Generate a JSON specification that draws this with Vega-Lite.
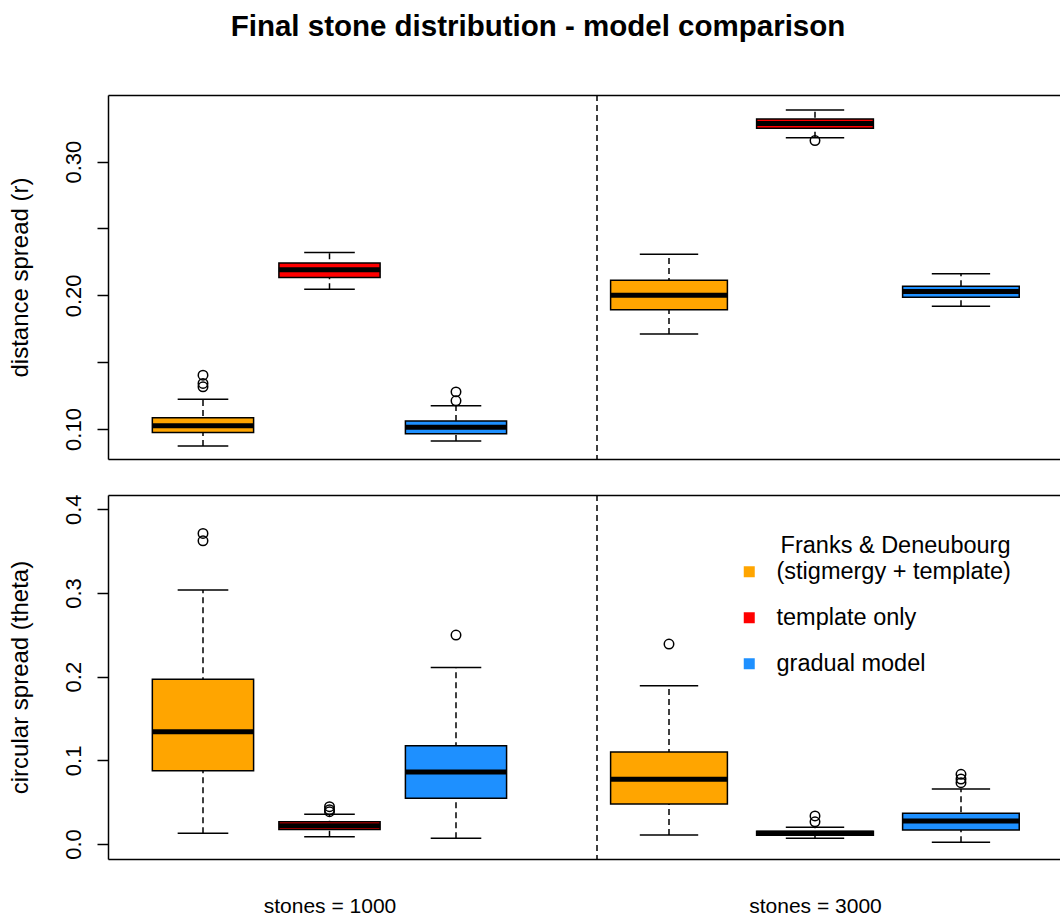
{
  "$schema": "https://vega.github.io/schema/vega-lite/v6.json",
  "padding": {"left": 8, "top": 11, "right": 0, "bottom": 0},
  "background": "white",
  "title": {
    "text": "Final stone distribution - model comparison",
    "font": "Liberation Sans",
    "fontSize": 29.5,
    "fontWeight": "bold",
    "color": "black",
    "anchor": "middle",
    "frame": "bounds",
    "dx": 4,
    "offset": 52
  },
  "datasets": {
    "boxes": [
      {"measure": "r", "stones": 1000, "model": "Franks & Deneubourg (stigmergy + template)", "slot": 1, "lo": 0.0873, "q1": 0.0975, "median": 0.1025, "q3": 0.1084, "hi": 0.1222},
      {"measure": "r", "stones": 1000, "model": "template only", "slot": 2, "lo": 0.2045, "q1": 0.2134, "median": 0.2192, "q3": 0.2241, "hi": 0.2321},
      {"measure": "r", "stones": 1000, "model": "gradual model", "slot": 3, "lo": 0.0910, "q1": 0.0965, "median": 0.1013, "q3": 0.1060, "hi": 0.1174},
      {"measure": "r", "stones": 3000, "model": "Franks & Deneubourg (stigmergy + template)", "slot": 4, "lo": 0.1711, "q1": 0.1893, "median": 0.2000, "q3": 0.2112, "hi": 0.2308},
      {"measure": "r", "stones": 3000, "model": "template only", "slot": 5, "lo": 0.3179, "q1": 0.3249, "median": 0.3284, "q3": 0.3319, "hi": 0.3386},
      {"measure": "r", "stones": 3000, "model": "gradual model", "slot": 6, "lo": 0.1918, "q1": 0.1985, "median": 0.2028, "q3": 0.2067, "hi": 0.2162},
      {"measure": "theta", "stones": 1000, "model": "Franks & Deneubourg (stigmergy + template)", "slot": 1, "lo": 0.0128, "q1": 0.0876, "median": 0.1342, "q3": 0.1968, "hi": 0.3035},
      {"measure": "theta", "stones": 1000, "model": "template only", "slot": 2, "lo": 0.0088, "q1": 0.0175, "median": 0.0219, "q3": 0.0267, "hi": 0.0355},
      {"measure": "theta", "stones": 1000, "model": "gradual model", "slot": 3, "lo": 0.0068, "q1": 0.0546, "median": 0.0860, "q3": 0.1175, "hi": 0.2111},
      {"measure": "theta", "stones": 3000, "model": "Franks & Deneubourg (stigmergy + template)", "slot": 4, "lo": 0.0108, "q1": 0.0478, "median": 0.0773, "q3": 0.1099, "hi": 0.1891},
      {"measure": "theta", "stones": 3000, "model": "template only", "slot": 5, "lo": 0.0068, "q1": 0.0104, "median": 0.0128, "q3": 0.0152, "hi": 0.0199},
      {"measure": "theta", "stones": 3000, "model": "gradual model", "slot": 6, "lo": 0.0020, "q1": 0.0167, "median": 0.0275, "q3": 0.0367, "hi": 0.0657}
    ],
    "outliers": [
      {"measure": "r", "slot": 1, "value": 0.1403},
      {"measure": "r", "slot": 1, "value": 0.1341},
      {"measure": "r", "slot": 1, "value": 0.1316},
      {"measure": "r", "slot": 3, "value": 0.1278},
      {"measure": "r", "slot": 3, "value": 0.1211},
      {"measure": "r", "slot": 5, "value": 0.3157},
      {"measure": "theta", "slot": 1, "value": 0.3712},
      {"measure": "theta", "slot": 1, "value": 0.3624},
      {"measure": "theta", "slot": 2, "value": 0.0446},
      {"measure": "theta", "slot": 2, "value": 0.0410},
      {"measure": "theta", "slot": 2, "value": 0.0386},
      {"measure": "theta", "slot": 3, "value": 0.2497},
      {"measure": "theta", "slot": 4, "value": 0.2389},
      {"measure": "theta", "slot": 5, "value": 0.0335},
      {"measure": "theta", "slot": 5, "value": 0.0266},
      {"measure": "theta", "slot": 6, "value": 0.0833},
      {"measure": "theta", "slot": 6, "value": 0.0777},
      {"measure": "theta", "slot": 6, "value": 0.0733}
    ]
  },
  "spacing": 34,
  "resolve": {"scale": {"color": "independent"}, "legend": {"color": "independent"}},
  "vconcat": [
    {
      "width": 952,
      "height": 364,
      "data": {"name": "boxes"},
      "transform": [
        {"filter": "datum.measure == 'r'"},
        {"calculate": "datum.slot - 0.4", "as": "left"},
        {"calculate": "datum.slot + 0.4", "as": "right"},
        {"calculate": "datum.slot - 0.2", "as": "capL"},
        {"calculate": "datum.slot + 0.2", "as": "capR"}
      ],
      "layer": [
        {
          "mark": {"type": "rule", "strokeDash": [6, 4], "strokeWidth": 1.5, "color": "black"},
          "encoding": {
            "x": {"field": "slot", "type": "quantitative",
                  "scale": {"domain": [0.25, 1, 3, 3.45, 3.5, 3.55, 4, 6, 6.68], "range": [0, 95, 348, 404.9, 489, 495.3, 561, 853, 952]},
                  "axis": {"orient": "bottom", "labels": false, "ticks": false, "title": null, "domain": true}},
            "y": {"field": "lo", "type": "quantitative",
                  "scale": {"domain": [0.0776, 0.3498], "nice": false, "zero": false},
                  "axis": {"title": "distance spread (r)", "values": [0.1, 0.15, 0.2, 0.25, 0.3],
                           "labelExpr": "round(datum.value * 100) % 10 == 0 ? format(datum.value, '.2f') : ''",
                           "labelOverlap": false, "tickSize": 11, "labelAngle": -90, "labelAlign": "center",
                           "labelBaseline": "bottom", "labelPadding": 12, "labelFontSize": 22,
                           "titleFontSize": 24, "titlePadding": 30}},
            "y2": {"field": "hi"}
          }
        },
        {
          "mark": {"type": "rule", "strokeWidth": 1.5, "color": "black"},
          "encoding": {
            "x": {"field": "capL", "type": "quantitative", "scale": {"domain": [0.25, 1, 3, 3.45, 3.5, 3.55, 4, 6, 6.68], "range": [0, 95, 348, 404.9, 489, 495.3, 561, 853, 952]}, "axis": null},
            "x2": {"field": "capR"},
            "y": {"field": "hi", "type": "quantitative", "scale": {"domain": [0.0776, 0.3498], "nice": false, "zero": false}}
          }
        },
        {
          "mark": {"type": "rule", "strokeWidth": 1.5, "color": "black"},
          "encoding": {
            "x": {"field": "capL", "type": "quantitative", "scale": {"domain": [0.25, 1, 3, 3.45, 3.5, 3.55, 4, 6, 6.68], "range": [0, 95, 348, 404.9, 489, 495.3, 561, 853, 952]}, "axis": null},
            "x2": {"field": "capR"},
            "y": {"field": "lo", "type": "quantitative", "scale": {"domain": [0.0776, 0.3498], "nice": false, "zero": false}}
          }
        },
        {
          "mark": {"type": "rect", "stroke": "black", "strokeWidth": 1.5, "opacity": 1},
          "encoding": {
            "x": {"field": "left", "type": "quantitative", "scale": {"domain": [0.25, 1, 3, 3.45, 3.5, 3.55, 4, 6, 6.68], "range": [0, 95, 348, 404.9, 489, 495.3, 561, 853, 952]}, "axis": null},
            "x2": {"field": "right"},
            "y": {"field": "q1", "type": "quantitative", "scale": {"domain": [0.0776, 0.3498], "nice": false, "zero": false}},
            "y2": {"field": "q3"},
            "color": {"field": "model", "type": "nominal",
                      "scale": {"domain": ["Franks & Deneubourg (stigmergy + template)", "template only", "gradual model"], "range": ["#FFA500", "#FF0000", "#1E90FF"]},
                      "legend": null}
          }
        },
        {
          "mark": {"type": "rule", "strokeWidth": 5, "color": "black"},
          "encoding": {
            "x": {"field": "left", "type": "quantitative", "scale": {"domain": [0.25, 1, 3, 3.45, 3.5, 3.55, 4, 6, 6.68], "range": [0, 95, 348, 404.9, 489, 495.3, 561, 853, 952]}, "axis": null},
            "x2": {"field": "right"},
            "y": {"field": "median", "type": "quantitative", "scale": {"domain": [0.0776, 0.3498], "nice": false, "zero": false}}
          }
        },
        {
          "data": {"name": "outliers"},
          "transform": [{"filter": "datum.measure == 'r'"}],
          "mark": {"type": "point", "shape": "circle", "filled": false, "stroke": "black", "strokeWidth": 1.5, "size": 90, "opacity": 1},
          "encoding": {
            "x": {"field": "slot", "type": "quantitative", "scale": {"domain": [0.25, 1, 3, 3.45, 3.5, 3.55, 4, 6, 6.68], "range": [0, 95, 348, 404.9, 489, 495.3, 561, 853, 952]}, "axis": null},
            "y": {"field": "value", "type": "quantitative", "scale": {"domain": [0.0776, 0.3498], "nice": false, "zero": false}}
          }
        },
        {
          "data": {"values": [{}]},
          "mark": {"type": "rule", "strokeDash": [6, 4], "strokeWidth": 1.5, "color": "black"},
          "encoding": {
            "x": {"datum": 3.5, "type": "quantitative",
                  "scale": {"domain": [0.25, 1, 3, 3.45, 3.5, 3.55, 4, 6, 6.68], "range": [0, 95, 348, 404.9, 489, 495.3, 561, 853, 952]},
                  "axis": {"orient": "top", "labels": false, "ticks": false, "title": null, "domain": true}}
          }
        }
      ],
      "resolve": {"axis": {"x": "independent"}}
    },
    {
      "width": 952,
      "height": 364,
      "data": {"name": "boxes"},
      "transform": [
        {"filter": "datum.measure == 'theta'"},
        {"calculate": "datum.slot - 0.4", "as": "left"},
        {"calculate": "datum.slot + 0.4", "as": "right"},
        {"calculate": "datum.slot - 0.2", "as": "capL"},
        {"calculate": "datum.slot + 0.2", "as": "capR"}
      ],
      "layer": [
        {
          "mark": {"type": "rule", "strokeDash": [6, 4], "strokeWidth": 1.5, "color": "black"},
          "encoding": {
            "x": {"field": "slot", "type": "quantitative",
                  "scale": {"domain": [0.25, 1, 3, 3.45, 3.5, 3.55, 4, 6, 6.68], "range": [0, 95, 348, 404.9, 489, 495.3, 561, 853, 952]},
                  "axis": {"orient": "bottom", "values": [2, 5], "ticks": false, "title": null, "domain": true,
                           "labelExpr": "datum.value == 2 ? 'stones = 1000' : 'stones = 3000'",
                           "labelFontSize": 21, "labelPadding": 36, "labelBaseline": "top", "labelAngle": 0, "labelOverlap": false}},
            "y": {"field": "lo", "type": "quantitative",
                  "scale": {"domain": [-0.0179, 0.4171], "nice": false, "zero": false},
                  "axis": {"title": "circular spread (theta)", "values": [0, 0.1, 0.2, 0.3, 0.4], "format": ".1f",
                           "labelOverlap": false, "tickSize": 11, "labelAngle": -90, "labelAlign": "center",
                           "labelBaseline": "bottom", "labelPadding": 12, "labelFontSize": 22,
                           "titleFontSize": 24, "titlePadding": 30}},
            "y2": {"field": "hi"}
          }
        },
        {
          "mark": {"type": "rule", "strokeWidth": 1.5, "color": "black"},
          "encoding": {
            "x": {"field": "capL", "type": "quantitative", "scale": {"domain": [0.25, 1, 3, 3.45, 3.5, 3.55, 4, 6, 6.68], "range": [0, 95, 348, 404.9, 489, 495.3, 561, 853, 952]}, "axis": null},
            "x2": {"field": "capR"},
            "y": {"field": "hi", "type": "quantitative", "scale": {"domain": [-0.0179, 0.4171], "nice": false, "zero": false}}
          }
        },
        {
          "mark": {"type": "rule", "strokeWidth": 1.5, "color": "black"},
          "encoding": {
            "x": {"field": "capL", "type": "quantitative", "scale": {"domain": [0.25, 1, 3, 3.45, 3.5, 3.55, 4, 6, 6.68], "range": [0, 95, 348, 404.9, 489, 495.3, 561, 853, 952]}, "axis": null},
            "x2": {"field": "capR"},
            "y": {"field": "lo", "type": "quantitative", "scale": {"domain": [-0.0179, 0.4171], "nice": false, "zero": false}}
          }
        },
        {
          "mark": {"type": "rect", "stroke": "black", "strokeWidth": 1.5, "opacity": 1},
          "encoding": {
            "x": {"field": "left", "type": "quantitative", "scale": {"domain": [0.25, 1, 3, 3.45, 3.5, 3.55, 4, 6, 6.68], "range": [0, 95, 348, 404.9, 489, 495.3, 561, 853, 952]}, "axis": null},
            "x2": {"field": "right"},
            "y": {"field": "q1", "type": "quantitative", "scale": {"domain": [-0.0179, 0.4171], "nice": false, "zero": false}},
            "y2": {"field": "q3"},
            "color": {"field": "model", "type": "nominal",
                      "scale": {"domain": ["Franks & Deneubourg (stigmergy + template)", "template only", "gradual model"], "range": ["#FFA500", "#FF0000", "#1E90FF"]},
                      "legend": {"orient": "none", "legendX": 629.5, "legendY": 39, "padding": 0,
                                 "title": "Franks & Deneubourg", "titleFont": "Liberation Sans", "titleFontSize": 23.5,
                                 "titleFontWeight": "normal", "titleColor": "black", "titleAnchor": "end", "titlePadding": 2.5,
                                 "titleLimit": 600,
                                 "labelExpr": "replace(datum.label, 'Franks & Deneubourg ', '')",
                                 "labelFont": "Liberation Sans", "labelFontSize": 23.5, "labelColor": "black",
                                 "labelOffset": 15.5, "labelLimit": 500,
                                 "symbolType": "square", "symbolSize": 121, "symbolStrokeWidth": 0, "symbolOpacity": 1,
                                 "rowPadding": 21}}
          }
        },
        {
          "mark": {"type": "rule", "strokeWidth": 5, "color": "black"},
          "encoding": {
            "x": {"field": "left", "type": "quantitative", "scale": {"domain": [0.25, 1, 3, 3.45, 3.5, 3.55, 4, 6, 6.68], "range": [0, 95, 348, 404.9, 489, 495.3, 561, 853, 952]}, "axis": null},
            "x2": {"field": "right"},
            "y": {"field": "median", "type": "quantitative", "scale": {"domain": [-0.0179, 0.4171], "nice": false, "zero": false}}
          }
        },
        {
          "data": {"name": "outliers"},
          "transform": [{"filter": "datum.measure == 'theta'"}],
          "mark": {"type": "point", "shape": "circle", "filled": false, "stroke": "black", "strokeWidth": 1.5, "size": 90, "opacity": 1},
          "encoding": {
            "x": {"field": "slot", "type": "quantitative", "scale": {"domain": [0.25, 1, 3, 3.45, 3.5, 3.55, 4, 6, 6.68], "range": [0, 95, 348, 404.9, 489, 495.3, 561, 853, 952]}, "axis": null},
            "y": {"field": "value", "type": "quantitative", "scale": {"domain": [-0.0179, 0.4171], "nice": false, "zero": false}}
          }
        },
        {
          "data": {"values": [{}]},
          "mark": {"type": "rule", "strokeDash": [6, 4], "strokeWidth": 1.5, "color": "black"},
          "encoding": {
            "x": {"datum": 3.5, "type": "quantitative",
                  "scale": {"domain": [0.25, 1, 3, 3.45, 3.5, 3.55, 4, 6, 6.68], "range": [0, 95, 348, 404.9, 489, 495.3, 561, 853, 952]},
                  "axis": {"orient": "top", "labels": false, "ticks": false, "title": null, "domain": true}}
          }
        }
      ],
      "resolve": {"axis": {"x": "independent"}}
    }
  ],
  "config": {
    "view": {"stroke": null},
    "font": "Liberation Sans",
    "axis": {
      "domainColor": "black", "domainWidth": 1.5, "tickColor": "black", "tickWidth": 1.5,
      "labelColor": "black", "titleColor": "black", "grid": false,
      "labelFont": "Liberation Sans", "titleFont": "Liberation Sans", "titleFontWeight": "normal"
    }
  }
}
